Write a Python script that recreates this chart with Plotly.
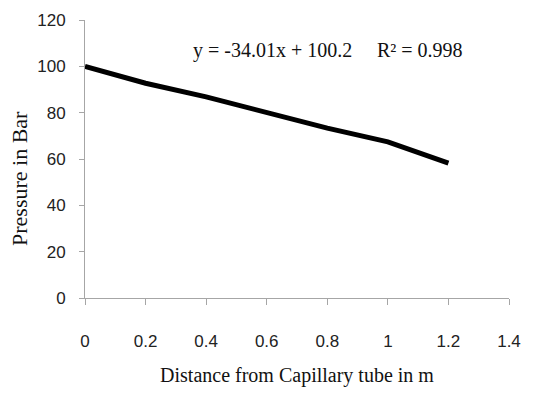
import plotly.graph_objects as go

# Pressure measured along the capillary tube
distance_m = [0.0, 0.2, 0.4, 0.6, 0.8, 1.0, 1.2]
pressure_bar = [100.0, 92.7, 86.8, 80.3, 73.3, 67.4, 58.2]

x_ticks = [0, 0.2, 0.4, 0.6, 0.8, 1.0, 1.2, 1.4]
x_tick_text = ["0", "0.2", "0.4", "0.6", "0.8", "1", "1.2", "1.4"]
y_ticks = [0, 20, 40, 60, 80, 100, 120]

fit_text = "y = -34.01x + 100.2"
r2_text = "R² = 0.998"

axis_grey = "#a6a6a6"
tick_font = dict(family="Liberation Sans, Arial, sans-serif", size=17, color="#222222")
serif = "Liberation Serif, Times New Roman, serif"

fig = go.Figure()
fig.add_trace(go.Scatter(
    x=distance_m, y=pressure_bar, mode="lines",
    line=dict(color="black", width=5),
    showlegend=False, hoverinfo="skip",
))

# Trendline equation and coefficient of determination
fig.add_annotation(
    x=0.62, y=107, xref="x", yref="y", text=fit_text, showarrow=False,
    font=dict(family=serif, size=20, color="#111111"),
)
fig.add_annotation(
    x=1.107, y=107, xref="x", yref="y", text=r2_text, showarrow=False,
    font=dict(family=serif, size=20, color="#111111"),
)

# Vertical axis title, positioned in pixels from the page edge
plot_w = 543 - 85 - 34
plot_h = 405 - 20 - 107
fig.add_annotation(
    x=(19 - 85) / plot_w, y=(405 - 107 - 179) / plot_h,
    xref="paper", yref="paper", xanchor="center", yanchor="middle",
    text="Pressure in Bar", textangle=-90, showarrow=False,
    font=dict(family=serif, size=22, color="#111111"),
)

fig.update_xaxes(
    range=[0, 1.4], tickvals=x_ticks, ticktext=x_tick_text,
    showgrid=False, zeroline=False,
    showline=True, linecolor=axis_grey, linewidth=1,
    ticks="outside", ticklen=6, tickcolor=axis_grey,
    tickfont=tick_font, ticklabelstandoff=22,
    title=dict(text="Distance from Capillary tube in m",
               font=dict(family=serif, size=20, color="#111111"), standoff=17),
)
fig.update_yaxes(
    range=[0, 120], tickvals=y_ticks,
    showgrid=False, zeroline=False,
    showline=True, linecolor=axis_grey, linewidth=1,
    ticks="outside", ticklen=5, tickcolor=axis_grey,
    tickfont=tick_font, ticklabelstandoff=10,
)

fig.update_layout(
    width=543, height=405,
    margin=dict(l=85, r=34, t=20, b=107),
    paper_bgcolor="white", plot_bgcolor="white",
)

fig.write_html("out.html")
